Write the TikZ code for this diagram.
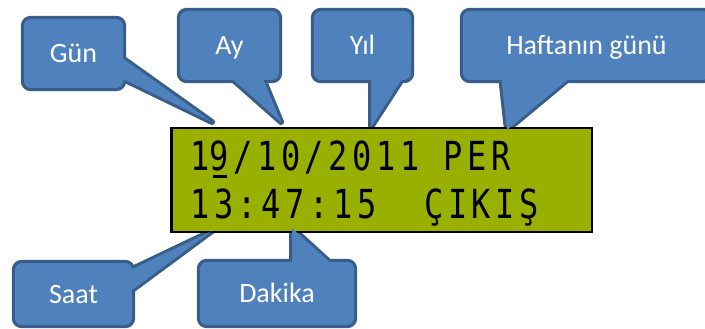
\documentclass[tikz,border=0pt]{standalone}
\usepackage{fontspec}
\setmainfont{Carlito}
\newfontfamily\lcdfont[FakeStretch=0.8, LetterSpace=11.5]{DejaVu Sans Mono}
\usetikzlibrary{backgrounds}
\definecolor{bubblefill}{RGB}{79,129,189}
\definecolor{bubbleline}{RGB}{56,93,138}
\definecolor{lcdgreen}{RGB}{153,176,0}
\newcommand{\lcdcursor}[1]{\rlap{\kern0.1em\rule[-0.19em]{0.34em}{0.075em}}#1}

\begin{document}
\begin{tikzpicture}[x=1pt, y=-1pt,
  bubble/.style={fill=bubblefill, rounded corners=7pt, inner sep=0pt, text=white,
    font=\fontsize{28}{30}\selectfont, text height=18pt, text depth=0pt},
  bubble line/.style={draw=bubbleline, line width=6pt, rounded corners=7pt, line join=round},
  lcdtext/.style={anchor=base west, inner sep=0pt, font=\lcdfont\fontsize{40}{40}\selectfont}]
  \useasboundingbox (0,0) rectangle (705,329);

  % display
  \node[draw=black, line width=2.5pt, fill=lcdgreen, inner sep=0pt,
    minimum width=420.5pt, minimum height=103.5pt] (lcd) at (381.5,180) {};
  \node[lcdtext] (line1) at (190,170) {1\lcdcursor{9}/10/2011 PER};
  \node[lcdtext] (line2) at (190,218) {13:47:15\ \ ÇIKIŞ};

  % callout boxes
  \node[bubble, minimum width=99pt, minimum height=69pt] (gun) at (73.5,53.5) {Gün};
  \node[bubble, minimum width=99pt, minimum height=69pt] (ay) at (229.5,45.5) {Ay};
  \node[bubble, minimum width=97pt, minimum height=69pt] (yil) at (362.5,45.5) {Yıl};
  \node[bubble, minimum width=247pt, minimum height=69pt] (hafta) at (586.5,45.5) {Haftanın günü};
  \node[bubble, minimum width=117pt, minimum height=62pt] (saat) at (73.5,294) {Saat};
  \node[bubble, minimum width=154pt, minimum height=63pt] (dakika) at (277,293.5) {Dakika};

  % pointer tips
  \coordinate (gun tip) at (212,122);
  \coordinate (ay tip) at (281,122);
  \coordinate (yil tip) at (371,127);
  \coordinate (hafta tip) at (507,130);
  \coordinate (saat tip) at (212,231);
  \coordinate (dakika tip) at (292,228);

  % pointers
  \fill[bubblefill] (118,55) -- (gun tip) -- (118,76.5) -- cycle;
  \fill[bubblefill] (229,76) -- (ay tip) -- (262,76) -- cycle;
  \fill[bubblefill] (371,76) -- (yil tip) -- (404,76) -- cycle;
  \fill[bubblefill] (501,76) -- (hafta tip) -- (572,76) -- cycle;
  \fill[bubblefill] (128,271) -- (saat tip) -- (128,293) -- cycle;
  \fill[bubblefill] (292,269) -- (dakika tip) -- (337,269) -- cycle;

  % outlines
  \begin{scope}[on background layer]
    \foreach \b in {gun, ay, yil, hafta, saat, dakika}
      \draw[bubble line] (\b.south west) rectangle (\b.north east);
    \draw[bubble line, sharp corners] (118,55) -- (gun tip) -- (118,76.5) -- cycle;
    \draw[bubble line, sharp corners] (229,76) -- (ay tip) -- (262,76) -- cycle;
    \draw[bubble line, sharp corners] (371,76) -- (yil tip) -- (404,76) -- cycle;
    \draw[bubble line, sharp corners] (501,76) -- (hafta tip) -- (572,76) -- cycle;
    \draw[bubble line, sharp corners] (128,271) -- (saat tip) -- (128,293) -- cycle;
    \draw[bubble line, sharp corners] (292,269) -- (dakika tip) -- (337,269) -- cycle;
  \end{scope}
\end{tikzpicture}
\end{document}
